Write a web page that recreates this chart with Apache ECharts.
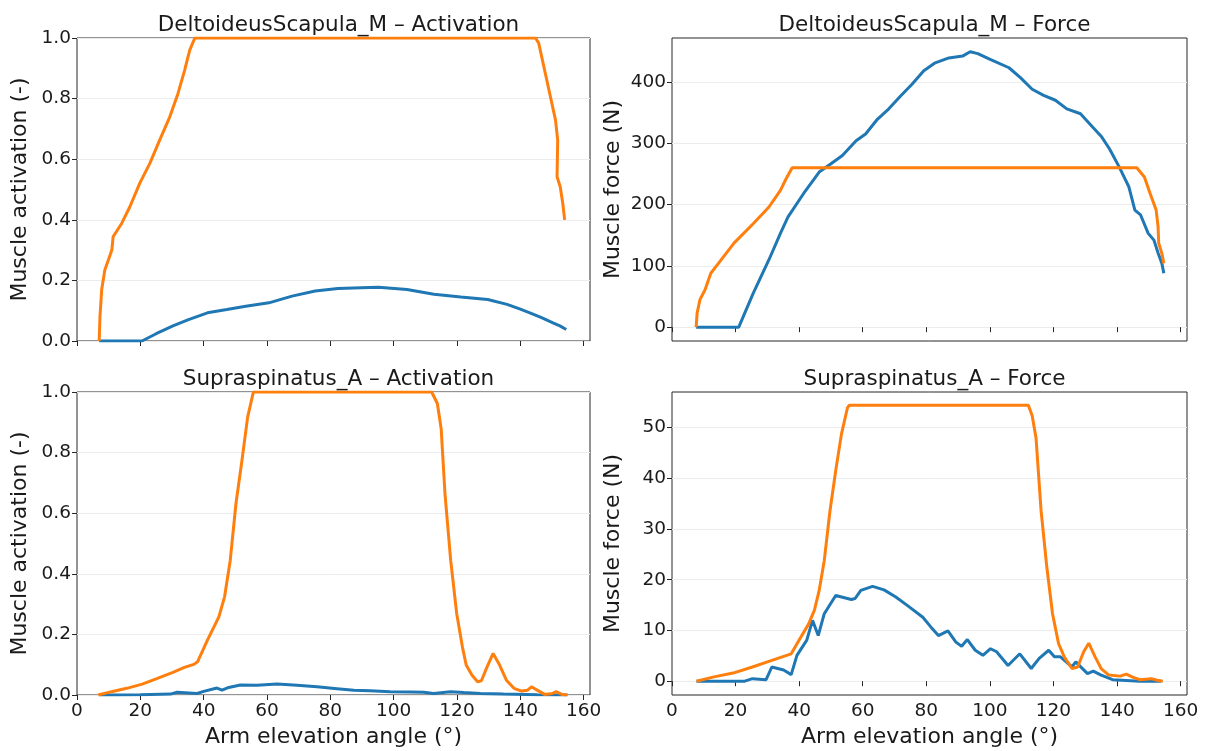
<!DOCTYPE html>
<html>
<head>
<meta charset="utf-8">
<title>Muscle activation and force vs arm elevation</title>
<script src="https://cdn.jsdelivr.net/npm/echarts@6/dist/echarts.min.js"></script>
<style>
  html, body { margin: 0; padding: 0; background: #ffffff; }
  #chart { width: 1205px; height: 751px; }
</style>
</head>
<body>
<div id="chart"></div>
<script>
// ---- Shared axis ticks ----
const angleTicks = [0, 20, 40, 60, 80, 100, 120, 140, 160];
const activationTicks = [0, 0.2, 0.4, 0.6, 0.8, 1.0];
const deltForceTicks = [0, 100, 200, 300, 400];
const supraForceTicks = [0, 10, 20, 30, 40, 50];

// ---- DeltoideusScapula_M: activation ----
const deltActAngleA = [7.0, 20.5, 25, 30.3, 35, 41.2, 47.3, 53.3, 60.6, 67.9, 75.2, 82.4, 89.7, 95.2, 104.2, 112.7, 121.2, 129.7, 135.8, 140, 143.0, 146.7, 150.3, 152.5, 154.5];
const deltActValueA = [0.0, 0.0, 0.024, 0.05, 0.07, 0.093, 0.104, 0.115, 0.126, 0.148, 0.165, 0.173, 0.176, 0.177, 0.170, 0.154, 0.145, 0.137, 0.121, 0.105, 0.093, 0.077, 0.060, 0.050, 0.038];
const deltActAngleB = [7.0, 7.25, 7.5, 7.8, 8.8, 9.9, 11.0, 11.4, 14.1, 16.7, 19.8, 23.0, 26.1, 29.3, 31.9, 34.0, 35.6, 37.2, 144.8, 145.8, 147.9, 149.5, 151.1, 151.8, 151.6, 152.6, 153.4, 153.6, 154.0];
const deltActValueB = [0.0, 0.08, 0.12, 0.17, 0.235, 0.267, 0.30, 0.344, 0.388, 0.443, 0.52, 0.586, 0.663, 0.74, 0.817, 0.894, 0.96, 1.0, 1.0, 0.983, 0.883, 0.806, 0.73, 0.663, 0.542, 0.509, 0.454, 0.46, 0.40];

// ---- DeltoideusScapula_M: force (N) ----
const deltForceAngleA = [7.6, 21.0, 25.6, 30.5, 34.1, 36.5, 41.4, 46.3, 49.9, 53.6, 57.9, 60.9, 64.6, 68.2, 71.9, 75.5, 79.2, 82.8, 87.1, 91.4, 93.8, 96.2, 99.9, 106.0, 109.6, 113.3, 116.9, 120.6, 124.2, 128.5, 131.5, 135.2, 137.6, 140.7, 143.7, 145.6, 147.4, 149.8, 151.6, 152.9, 154.1, 154.7];
const deltForceValueA = [0, 0, 56, 110, 153, 180, 218, 253, 266, 280, 304, 315, 339, 356, 377, 396, 418, 431, 439, 442, 449, 446, 437, 423, 407, 388, 378, 370, 356, 348, 331, 310, 291, 261, 229, 191, 183, 153, 142, 121, 104, 88];
const deltForceAngleB = [7.6, 7.9, 8.8, 10.4, 12.2, 14.6, 19.5, 25.6, 30.5, 34.1, 35.9, 37.8, 146.2, 148.6, 150.4, 152.3, 152.9, 153.1, 154.1, 154.7];
const deltForceValueB = [0, 23, 45, 61, 88, 104, 137, 169, 196, 223, 242, 260, 260, 245, 218, 191, 164, 137, 120, 104];

// ---- Supraspinatus_A: activation ----
const supraActAngleA = [7.0, 12, 20, 29.5, 31.6, 37.9, 40.0, 44.2, 45.8, 47.9, 51.6, 56.8, 63.2, 69.5, 75.8, 82.1, 87.4, 92.6, 98.9, 105.3, 109.5, 112.6, 117.9, 122.1, 127.4, 134.7, 145.3, 154.7];
const supraActValueA = [0.0, 0.0, 0.001, 0.003, 0.009, 0.005, 0.012, 0.023, 0.016, 0.025, 0.033, 0.032, 0.036, 0.032, 0.027, 0.021, 0.016, 0.014, 0.011, 0.010, 0.009, 0.005, 0.011, 0.008, 0.005, 0.003, 0.001, 0.0];
const supraActAngleB = [6.7, 10.9, 15.7, 20.6, 25.4, 30.3, 33.9, 36.9, 38.1, 41.2, 44.8, 46.6, 48.4, 50.2, 52.1, 53.9, 55.7, 112.0, 113.8, 115.0, 116.2, 118.0, 119.9, 121.7, 122.9, 124.7, 126.5, 127.7, 129.5, 131.4, 133.2, 135.6, 138.0, 140.4, 142.3, 143.5, 145.3, 147.7, 150.1, 151.3, 153.1, 155.0];
const supraActValueB = [0.0, 0.011, 0.022, 0.036, 0.055, 0.075, 0.091, 0.101, 0.11, 0.181, 0.258, 0.324, 0.445, 0.632, 0.775, 0.918, 1.0, 1.0, 0.962, 0.879, 0.665, 0.445, 0.269, 0.159, 0.099, 0.066, 0.044, 0.047, 0.093, 0.137, 0.104, 0.049, 0.022, 0.013, 0.016, 0.027, 0.016, 0.002, 0.005, 0.011, 0.002, 0.0];

// ---- Supraspinatus_A: force (N) ----
const supraForceAngleA = [7.7, 22.9, 25.3, 29.6, 31.4, 35.1, 37.5, 39.3, 42.4, 44.2, 46.0, 47.9, 51.5, 56.4, 57.6, 59.4, 63.1, 66.7, 70.4, 74.1, 78.9, 81.4, 83.8, 86.8, 89.3, 91.1, 92.9, 95.4, 97.8, 100.2, 102.1, 105.7, 109.4, 113.0, 115.5, 118.5, 120.3, 122.2, 125.8, 127.0, 130.7, 132.5, 135.0, 138.6, 147.1, 153.8];
const supraForceValueA = [0, 0, 0.5, 0.3, 2.8, 2.2, 1.3, 5.1, 8.1, 12.0, 9.0, 13.3, 16.9, 16.1, 16.3, 17.9, 18.7, 18.0, 16.6, 14.9, 12.6, 10.7, 9.0, 9.9, 7.7, 6.9, 8.2, 6.1, 5.1, 6.4, 5.8, 3.1, 5.4, 2.5, 4.5, 6.1, 4.8, 4.8, 2.8, 3.8, 1.5, 2.0, 1.2, 0.3, 0, 0];
const supraForceAngleB = [7.7, 13.2, 19.2, 25.3, 31.4, 37.5, 40.0, 43.0, 44.8, 46.3, 47.9, 49.7, 51.5, 53.3, 55.2, 55.8, 112.1, 113.3, 114.5, 116.1, 117.9, 119.7, 121.6, 123.4, 125.8, 127.6, 129.5, 131.1, 133.1, 135.0, 137.4, 141.0, 142.9, 144.7, 147.1, 150.8, 152.6, 154.4];
const supraForceValueB = [0, 0.85, 1.6, 2.8, 4.1, 5.4, 8.1, 11.3, 14.0, 17.9, 23.8, 33.6, 41.5, 48.7, 53.9, 54.4, 54.4, 52.3, 48.0, 33.6, 22.5, 13.3, 7.4, 4.8, 2.5, 2.8, 5.8, 7.5, 4.8, 2.5, 1.2, 1.0, 1.4, 0.85, 0.3, 0.5, 0.2, 0];

const zip = (xs, ys) => xs.map((x, i) => [x, ys[i]]);

const FONT = 'DejaVu Sans';
const TEXT = '#1a1a1a';
const BLUE = '#1f77b4';
const ORANGE = '#ff7f0e';

const panels = [
  { title: 'DeltoideusScapula_M – Activation', yName: 'Muscle activation (-)', yMin: 0, yMax: 1, yTicks: activationTicks, dec: 1, nameGap: 46,
    a: zip(deltActAngleA, deltActValueA), b: zip(deltActAngleB, deltActValueB), grid: { left: 77, top: 38, width: 513, height: 303 }, bottom: false },
  { title: 'DeltoideusScapula_M – Force', yName: 'Muscle force (N)', yMin: -22.5, yMax: 471.5, yTicks: deltForceTicks, dec: 0, nameGap: 48,
    a: zip(deltForceAngleA, deltForceValueA), b: zip(deltForceAngleB, deltForceValueB), grid: { left: 672, top: 38, width: 515, height: 303 }, bottom: false },
  { title: 'Supraspinatus_A – Activation', yName: 'Muscle activation (-)', yMin: 0, yMax: 1, yTicks: activationTicks, dec: 1, nameGap: 46,
    a: zip(supraActAngleA, supraActValueA), b: zip(supraActAngleB, supraActValueB), grid: { left: 77, top: 392, width: 513, height: 303 }, bottom: true },
  { title: 'Supraspinatus_A – Force', yName: 'Muscle force (N)', yMin: -2.72, yMax: 57.0, yTicks: supraForceTicks, dec: 0, nameGap: 48,
    a: zip(supraForceAngleA, supraForceValueA), b: zip(supraForceAngleB, supraForceValueB), grid: { left: 672, top: 392, width: 515, height: 303 }, bottom: true }
];

const option = {
  animation: false,
  backgroundColor: '#ffffff',
  textStyle: { fontFamily: FONT, color: TEXT },
  title: panels.map(p => ({
    text: p.title,
    left: p.grid.left + p.grid.width / 2,
    top: p.grid.top - 29,
    textAlign: 'center',
    textStyle: { fontFamily: FONT, fontSize: 21.5, fontWeight: 'normal', color: TEXT }
  })),
  grid: panels.map(p => Object.assign({ show: true, borderColor: '#262626', borderWidth: 1, backgroundColor: 'transparent' }, p.grid)),
  xAxis: panels.map((p, i) => ({
    type: 'value',
    gridIndex: i,
    min: 0,
    max: 162,
    name: p.bottom ? 'Arm elevation angle (°)' : '',
    nameLocation: 'middle',
    nameGap: 31,
    nameTextStyle: { fontFamily: FONT, fontSize: 22, color: TEXT },
    axisLine: { show: false },
    axisTick: { show: true, inside: false, length: 5, customValues: angleTicks, lineStyle: { color: '#262626', width: 1 } },
    axisLabel: { show: p.bottom, margin: 7, fontFamily: FONT, fontSize: 18.5, color: TEXT, customValues: angleTicks },
    splitLine: { show: false }
  })),
  yAxis: panels.map((p, i) => ({
    type: 'value',
    gridIndex: i,
    min: p.yMin,
    max: p.yMax,
    name: p.yName,
    nameLocation: 'middle',
    nameGap: p.nameGap,
    nameTextStyle: { fontFamily: FONT, fontSize: 22, color: TEXT },
    axisLine: { show: false },
    axisTick: { show: true, inside: false, length: 5, customValues: p.yTicks, lineStyle: { color: '#262626', width: 1 } },
    axisLabel: { show: true, margin: 6, fontFamily: FONT, fontSize: 18.5, color: TEXT, customValues: p.yTicks,
      formatter: v => Number(v).toFixed(p.dec) },
    splitLine: { show: true, lineStyle: { color: '#ececec', width: 1 } }
  })),
  series: panels.flatMap((p, i) => [
    { name: 'Case A', type: 'line', xAxisIndex: i, yAxisIndex: i, data: p.a, showSymbol: false, symbol: 'none',
      lineStyle: { color: BLUE, width: 3 }, itemStyle: { color: BLUE }, clip: true, z: 2 },
    { name: 'Case B', type: 'line', xAxisIndex: i, yAxisIndex: i, data: p.b, showSymbol: false, symbol: 'none',
      lineStyle: { color: ORANGE, width: 3 }, itemStyle: { color: ORANGE }, clip: true, z: 3 }
  ])
};

const chart = echarts.init(document.getElementById('chart'), null, { renderer: 'canvas' });
chart.setOption(option);
</script>
</body>
</html>
